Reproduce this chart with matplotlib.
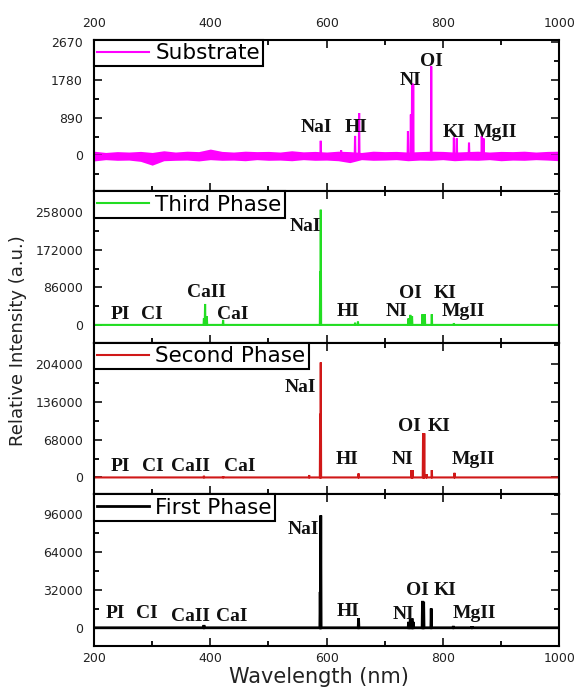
import numpy as np
import matplotlib
matplotlib.use("Agg")
import matplotlib.pyplot as plt
from matplotlib.ticker import MultipleLocator

# ---- data (wavelength nm, intensity a.u.) ----
panel_names = ["Substrate", "Third Phase", "Second Phase", "First Phase"]
panel_colors = ["#ff00ff", "#22dd22", "#d01818", "#000000"]

sub_peak_wl = [590, 625, 649, 656, 740, 745, 747, 749, 780, 819, 824, 845, 867, 870]
sub_peak_h = [345, 120, 460, 1000, 575, 965, 1690, 1690, 2100, 420, 400, 300, 460, 400]

third_peak_wl = [389, 391, 394, 422, 589, 590, 649, 654, 741, 744, 747, 765, 769, 781, 819]
third_peak_h = [15000, 48000, 20000, 11500, 122000, 264000, 5000, 7600, 15000, 23000, 20000, 24600, 24600, 24600, 4000]

second_peak_wl = [389, 422, 570, 589, 590, 655, 746, 748, 766, 768, 772, 781, 820]
second_peak_h = [3000, 2000, 4200, 114500, 207000, 7200, 13200, 13200, 79500, 79500, 6000, 13200, 8300]

first_peak_wl = [389, 589, 590, 655, 741, 744, 747, 749, 765, 767, 780, 818, 850]
first_peak_h = [2300, 30300, 94900, 7900, 5000, 8000, 8000, 5000, 22700, 22000, 16300, 1500, 1200]

# substrate baseline noise envelope
noise_wl = [200, 220, 240, 260, 280, 300, 320, 340, 360, 380, 400, 420, 440, 460, 480,
            500, 520, 540, 560, 580, 600, 620, 640, 660, 680, 700, 720, 740, 760, 780,
            800, 820, 840, 860, 880, 900, 920, 940, 960, 980, 1000]
noise_hi = [100, 70, 90, 80, 95, 70, 110, 80, 100, 90, 150, 95, 80, 100, 90,
            95, 80, 110, 85, 95, 80, 100, 90, 70, 100, 90, 95, 80, 90, 100,
            95, 80, 90, 100, 80, 95, 90, 100, 80, 95, 100]
noise_lo = [-130, -100, -115, -110, -140, -230, -125, -115, -110, -130, -100, -115, -110, -125, -100,
            -115, -110, -125, -100, -115, -110, -125, -170, -100, -115, -110, -100, -125, -110, -115,
            -100, -125, -110, -115, -100, -125, -110, -115, -100, -110, -125]

peak_wls = [sub_peak_wl, third_peak_wl, second_peak_wl, first_peak_wl]
peak_hs = [sub_peak_h, third_peak_h, second_peak_h, first_peak_h]

yticks = [[0, 890, 1780, 2670],
          [0, 86000, 172000, 258000],
          [0, 68000, 136000, 204000],
          [0, 32000, 64000, 96000]]
ylims = [(-850, 2723), (-41400, 305800), (-30700, 242000), (-15400, 112600)]

# element labels: (text, wavelength, intensity)
labels = [
    [("NaI", 583, 650), ("HI", 651, 650), ("NI", 744, 1765), ("OI", 781, 2225),
     ("KI", 819, 535), ("MgII", 890, 535)],
    [("PI", 246, 23000), ("CI", 300, 23000), ("CaII", 394, 74300), ("CaI", 438, 23000),
     ("NaI", 563, 226000), ("HI", 637, 30600), ("NI", 721, 30600), ("OI", 744, 72900),
     ("KI", 803, 72900), ("MgII", 835, 30600)],
    [("PI", 246, 20400), ("CI", 301, 20400), ("CaII", 365, 20400), ("CaI", 451, 20400),
     ("NaI", 554, 161000), ("HI", 636, 32500), ("NI", 731, 32500), ("OI", 742, 91500),
     ("KI", 794, 91500), ("MgII", 852, 32500)],
    [("PI", 237, 12100), ("CI", 290, 12100), ("CaII", 365, 9850), ("CaI", 437, 9850),
     ("NaI", 560, 82900), ("HI", 637, 13500), ("NI", 732, 11500), ("OI", 756, 31700),
     ("KI", 804, 31700), ("MgII", 855, 12100)],
]


def stick_spectrum(wl, h):
    xs = [200.0]
    ys = [0.0]
    for w, v in sorted(zip(wl, h)):
        xs += [w - 0.6, w, w + 0.6]
        ys += [0.0, v, 0.0]
    xs.append(1000.0)
    ys.append(0.0)
    return np.array(xs), np.array(ys)


fig = plt.figure(figsize=(5.77, 6.89), dpi=100)
gs = fig.add_gridspec(4, 1, left=0.163, right=0.969, top=0.942, bottom=0.0624, hspace=0)
axes = [fig.add_subplot(gs[i]) for i in range(4)]

for i, ax in enumerate(axes):
    col = panel_colors[i]
    x, y = stick_spectrum(peak_wls[i], peak_hs[i])
    lw = 2.0 if i == 3 else 1.5
    ax.plot(x, y, color=col, lw=lw, label=panel_names[i], solid_joinstyle="miter")
    if i == 0:
        ax.fill_between(noise_wl, noise_lo, noise_hi, color=col, lw=0)
    ax.set_xlim(200, 1000)
    ax.set_ylim(*ylims[i])
    ax.set_yticks(yticks[i])
    ax.set_yticklabels([str(v) for v in yticks[i]])
    ax.yaxis.set_minor_locator(MultipleLocator(yticks[i][1] / 2))
    ax.xaxis.set_major_locator(MultipleLocator(200))
    ax.xaxis.set_minor_locator(MultipleLocator(100))
    ax.tick_params(which="both", direction="in", top=True, right=True, width=1.3)
    ax.tick_params(which="major", length=6)
    ax.tick_params(which="minor", length=3.5)
    ax.tick_params(axis="y", labelsize=9, pad=8, colors="#222222", labelcolor="#222222")
    ax.tick_params(axis="x", labelsize=9, colors="#222222")
    for s in ax.spines.values():
        s.set_linewidth(1.5)
    if i == 0:
        ax.tick_params(axis="x", labeltop=True, labelbottom=False, pad=7)
    elif i == 3:
        ax.tick_params(axis="x", labelbottom=True, pad=4)
    else:
        ax.tick_params(axis="x", labelbottom=False)
    leg = ax.legend(loc="upper left", borderaxespad=0, fontsize=15.5, handlelength=2.4,
                    handletextpad=0.3, borderpad=0.15, fancybox=False, framealpha=1)
    leg.get_frame().set_edgecolor("black")
    leg.get_frame().set_linewidth(1.5)
    for t, wl, v in labels[i]:
        ax.text(wl, v, t, ha="center", va="center", fontsize=14, fontweight="bold",
                family="Liberation Serif", color="#111111")

fig.text(0.031, 0.505, "Relative Intensity (a.u.)", rotation=90, ha="center", va="center",
         fontsize=13, color="#222222")
fig.text(0.552, 0.017, "Wavelength (nm)", ha="center", va="center", fontsize=15, color="#222222")

fig.savefig("out.png", dpi=100)
